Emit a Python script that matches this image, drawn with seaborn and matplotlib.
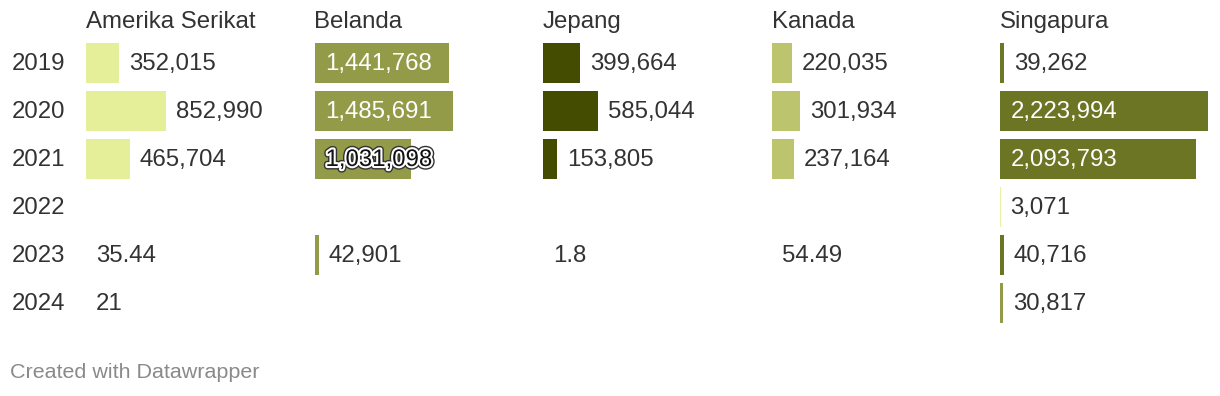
import numpy as np
import pandas as pd
import matplotlib
matplotlib.use("Agg")
import matplotlib.pyplot as plt
import matplotlib.patheffects as pe
import matplotlib.transforms as mtrans
import seaborn as sns

# ---------------- data ----------------
years = ["2019", "2020", "2021", "2022", "2023", "2024"]
countries = ["Amerika Serikat", "Belanda", "Jepang", "Kanada", "Singapura"]

amerika_serikat = [352015, 852990, 465704, None, 35.44, 21]
belanda = [1441768, 1485691, 1031098, None, 42901, None]
jepang = [399664, 585044, 153805, None, 1.8, None]
kanada = [220035, 301934, 237164, None, 54.49, None]
singapura = [39262, 2223994, 2093793, 3071, 40716, 30817]

LIGHT, MID, OLIVE, DARK, PALE = "#e5ee98", "#949b48", "#6b7524", "#434c00", "#bcc46d"
colors_amerika = [LIGHT] * 6
colors_belanda = [MID] * 6
colors_jepang = [DARK] * 6
colors_kanada = [PALE] * 6
colors_singapura = ["#6d7827", OLIVE, OLIVE, LIGHT, OLIVE, MID]

series = [amerika_serikat, belanda, jepang, kanada, singapura]
series_colors = [colors_amerika, colors_belanda, colors_jepang, colors_kanada, colors_singapura]

rows = []
for c, vals in zip(countries, series):
    for y, v in zip(years, vals):
        rows.append({"country": c, "year": y, "value": np.nan if v is None else v})
df = pd.DataFrame(rows)


def fmt(v):
    return f"{v:,}"


# ---------------- layout ----------------
W, H = 1220, 396
DPI = 100
sns.set_theme(style="white")
plt.rcParams["font.family"] = ["Liberation Sans", "DejaVu Sans"]
TEXT = "#333333"
FS = 24 * 72 / DPI  # 24 px

fig = plt.figure(figsize=(W / DPI, H / DPI), dpi=DPI)
fig.patch.set_facecolor("white")

panel_w = 208
top_px, bot_px = 39, 327
xmax = np.nanmax(df["value"].values)


def px2pt(p):
    return p * 72 / DPI


DY = px2pt(-1)

for i, (c, vals, cols) in enumerate(zip(countries, series, series_colors)):
    left_px = 86 + i * 228.5
    ax = fig.add_axes([left_px / W, (H - bot_px) / H, panel_w / W, (bot_px - top_px) / H])
    sub = df[df["country"] == c]
    pal = dict(zip(years, cols))
    sns.barplot(data=sub, x="value", y="year", hue="year", order=years, hue_order=years,
                palette=pal, orient="h", width=0.83, saturation=1, errorbar=None,
                legend=False, linewidth=0, ax=ax)
    ax.set_xlim(0, xmax)
    ax.set_ylim(len(years) - 0.5, -0.5)
    ax.axis("off")

    for p in ax.patches:
        wpx = p.get_width() / xmax * panel_w
        if 0.1 < wpx < 1.5:
            p.set_linewidth(1.2)
            p.set_edgecolor(p.get_facecolor())

    # title
    ax.annotate(c, xy=(0, 1), xycoords="axes fraction", xytext=(0, px2pt(17)),
                textcoords="offset points", ha="left", va="center", fontsize=FS, color=TEXT)

    # value labels
    for j, v in enumerate(vals):
        if v is None:
            continue
        wpx = v / xmax * panel_w
        label = fmt(v)
        if wpx > 90:
            lbl_w = len(label) * 0.5 * 24  # rough
            if lbl_w + 11 < wpx:
                ax.annotate(label, xy=(0, j), xytext=(px2pt(11), DY), textcoords="offset points",
                            ha="left", va="center", fontsize=FS, color="white")
            else:
                ax.annotate(label, xy=(0, j), xytext=(px2pt(11), DY), textcoords="offset points",
                            ha="left", va="center", fontsize=FS, color="#111111",
                            path_effects=[pe.Stroke(linewidth=5, foreground="#333333"),
                                          pe.Stroke(linewidth=3, foreground="white"),
                                          pe.Normal()])
        else:
            ax.annotate(label, xy=(v, j), xytext=(px2pt(10), DY), textcoords="offset points",
                        ha="left", va="center", fontsize=FS, color=TEXT)

    if i == 0:
        tr = mtrans.blended_transform_factory(fig.transFigure, ax.transData)
        for j, y in enumerate(years):
            ax.annotate(y, xy=(12 / W, j), xycoords=tr, xytext=(0, DY), textcoords="offset points",
                        ha="left", va="center", fontsize=FS, color=TEXT)

fig.text(10 / W, (H - 373) / H, "Created with Datawrapper", ha="left", va="center",
         fontsize=21.5 * 72 / DPI, color="#8a8a8a")

fig.savefig("out.png", dpi=DPI, facecolor="white")
